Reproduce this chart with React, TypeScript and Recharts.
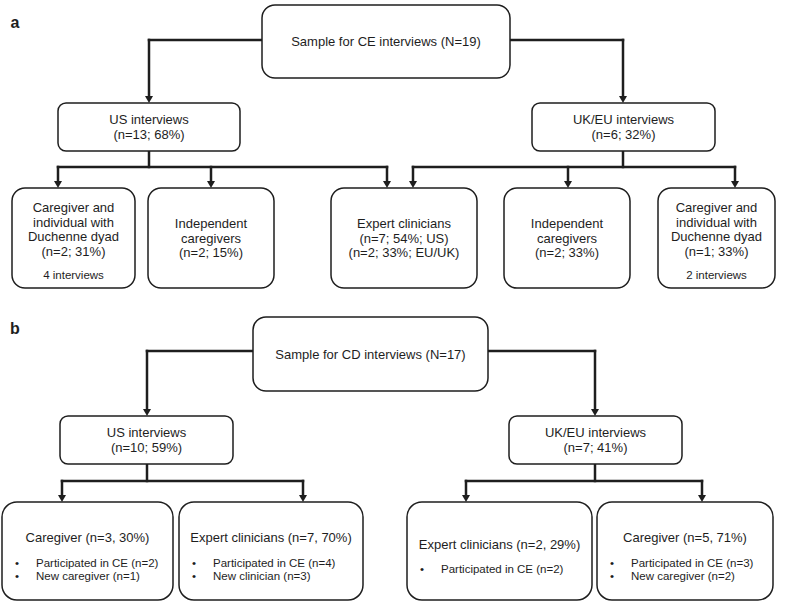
import React from "react";
import { ScatterChart, Scatter, XAxis, YAxis, ReferenceLine } from "recharts";

// ---- text content ----
const panelLabels = ["a", "b"];
const ceRoot = "Sample for CE interviews (N=19)";
const cdRoot = "Sample for CD interviews (N=17)";
const ceRegions = [
  ["US interviews", "(n=13; 68%)"],
  ["UK/EU interviews", "(n=6; 32%)"],
];
const ceGroups = [
  ["Caregiver and", "individual with", "Duchenne dyad", "(n=2; 31%)"],
  ["Independent", "caregivers", "(n=2; 15%)"],
  ["Expert clinicians", "(n=7; 54%; US)", "(n=2; 33%; EU/UK)"],
  ["Independent", "caregivers", "(n=2; 33%)"],
  ["Caregiver and", "individual with", "Duchenne dyad", "(n=1; 33%)"],
];
const ceNotes = ["4 interviews", "", "", "", "2 interviews"];
const cdRegions = [
  ["US interviews", "(n=10; 59%)"],
  ["UK/EU interviews", "(n=7; 41%)"],
];
const cdGroups = [
  "Caregiver (n=3, 30%)",
  "Expert clinicians (n=7, 70%)",
  "Expert clinicians (n=2, 29%)",
  "Caregiver (n=5, 71%)",
];
const cdBullets = [
  ["Participated in CE (n=2)", "New caregiver (n=1)"],
  ["Participated in CE (n=4)", "New clinician (n=3)"],
  ["Participated in CE (n=2)"],
  ["Participated in CE (n=3)", "New caregiver (n=2)"],
];

// ---- layout (x0, y0, x1, y1 in plot units) ----
const rootRects = [
  [262, 5, 510, 78],
  [253, 317, 488, 391],
];
const ceRegionRects = [
  [58, 103, 240, 151],
  [532, 103, 715, 151],
];
const ceGroupRects = [
  [12, 188, 135, 288],
  [148, 188, 274, 288],
  [331, 188, 477, 288],
  [504, 188, 630, 288],
  [658, 188, 775, 288],
];
const cdRegionRects = [
  [60, 416, 233, 464],
  [509, 416, 682, 464],
];
const cdGroupRects = [
  [2, 502, 173, 600],
  [179, 502, 363, 600],
  [407, 502, 592, 600],
  [597, 502, 773, 600],
];
const labelPos = [
  [15, 22],
  [15, 328],
];

// connectors: [x1, y1, x2, y2]
const segments = [
  [262, 40, 149, 40], [149, 40, 149, 97],
  [510, 40, 623, 40], [623, 40, 623, 97],
  [149, 151, 149, 167], [58, 167, 387, 167],
  [58, 167, 58, 182], [211, 167, 211, 182], [387, 167, 387, 182],
  [623, 151, 623, 167], [413, 167, 735, 167],
  [413, 167, 413, 182], [568, 167, 568, 182], [735, 167, 735, 182],
  [253, 351, 147, 351], [147, 351, 147, 410],
  [488, 351, 595, 351], [595, 351, 595, 410],
  [147, 464, 147, 481], [62, 481, 303, 481],
  [62, 481, 62, 496], [303, 481, 303, 496],
  [595, 464, 595, 481], [466, 481, 702, 481],
  [466, 481, 466, 496], [702, 481, 702, 496],
];
const arrowTips = [
  [149, 103], [623, 103],
  [58, 188], [211, 188], [387, 188], [413, 188], [568, 188], [735, 188],
  [147, 416], [595, 416],
  [62, 502], [303, 502], [466, 502], [702, 502],
];

const INK = "#1e1e1e";
const FONT = "'Liberation Sans', Arial, sans-serif";

type Box = {
  x: number;
  y: number;
  w: number;
  h: number;
  rx: number;
  kind: "plain" | "bullets";
  lines: string[];
  lh: number;
  note?: string;
  bullets?: string[];
};

const mk = (r: number[], rx: number, kind: Box["kind"], lines: string[], lh: number, extra = {}): Box => ({
  x: (r[0] + r[2]) / 2,
  y: (r[1] + r[3]) / 2,
  w: r[2] - r[0],
  h: r[3] - r[1],
  rx,
  kind,
  lines,
  lh,
  ...extra,
});

const boxes: Box[] = [
  mk(rootRects[0], 13, "plain", [ceRoot], 15),
  mk(rootRects[1], 13, "plain", [cdRoot], 15),
  ...ceRegionRects.map((r, i) => mk(r, 8, "plain", ceRegions[i], 15.5)),
  ...ceGroupRects.map((r, i) => mk(r, 13, "plain", ceGroups[i], 14.5, { note: ceNotes[i] })),
  ...cdRegionRects.map((r, i) => mk(r, 8, "plain", cdRegions[i], 15)),
  ...cdGroupRects.map((r, i) => mk(r, 15, "bullets", [cdGroups[i]], 13, { bullets: cdBullets[i] })),
];

const arrows = arrowTips.map(([x, y]) => ({ x, y }));
const labels = labelPos.map(([x, y], i) => ({ x, y, text: panelLabels[i] }));

function BoxShape(props: any) {
  const { cx, cy, payload } = props;
  const b: Box = payload;
  const left = cx - b.w / 2;
  const top = cy - b.h / 2;
  const out: React.ReactNode[] = [];
  if (b.kind === "plain") {
    const mid = b.note ? cy - 8.5 : cy;
    const start = mid - ((b.lines.length - 1) * b.lh) / 2;
    b.lines.forEach((t, i) =>
      out.push(
        <text key={i} x={cx} y={start + i * b.lh} textAnchor="middle" dominantBaseline="central" fontSize={13} fill={INK}>
          {t}
        </text>
      )
    );
    if (b.note)
      out.push(
        <text key="note" x={cx} y={cy + 37} textAnchor="middle" dominantBaseline="central" fontSize={11.5} fill={INK}>
          {b.note}
        </text>
      );
  } else {
    const n = b.bullets!.length;
    const headY = cy + 5.5 - (25 + 13 * (n - 1)) / 2;
    out.push(
      <text key="h" x={cx} y={headY} textAnchor="middle" dominantBaseline="central" fontSize={13} fill={INK}>
        {b.lines[0]}
      </text>
    );
    b.bullets!.forEach((t, i) => {
      const y = headY + 25 + i * 13;
      out.push(
        <text key={"d" + i} x={left + 15} y={y} textAnchor="middle" dominantBaseline="central" fontSize={11.5} fill={INK}>
          {"•"}
        </text>,
        <text key={"b" + i} x={left + 34} y={y} dominantBaseline="central" fontSize={11.5} fill={INK}>
          {t}
        </text>
      );
    });
  }
  return (
    <g fontFamily={FONT}>
      <rect x={left} y={top} width={b.w} height={b.h} rx={b.rx} ry={b.rx} fill="#fff" stroke={INK} strokeWidth={1.5} />
      {out}
    </g>
  );
}

function ArrowShape(props: any) {
  const { cx, cy } = props;
  return <polygon points={`${cx - 4},${cy - 7} ${cx + 4},${cy - 7} ${cx},${cy}`} fill={INK} />;
}

function LabelShape(props: any) {
  const { cx, cy, payload } = props;
  return (
    <text x={cx} y={cy} textAnchor="middle" dominantBaseline="central" fontSize={16} fontWeight="bold" fontFamily={FONT} fill={INK}>
      {payload.text}
    </text>
  );
}

export default function App() {
  return (
    <div style={{ position: "absolute", left: 0, top: 0, width: 787, height: 603, background: "#fff" }}>
      <ScatterChart width={787} height={603} margin={{ top: 0, right: 0, bottom: 0, left: 0 }}>
        <XAxis type="number" dataKey="x" domain={[0, 787]} hide allowDataOverflow />
        <YAxis type="number" dataKey="y" domain={[0, 603]} reversed hide allowDataOverflow />
        {segments.map((s, i) => (
          <ReferenceLine
            key={i}
            segment={[{ x: s[0], y: s[1] }, { x: s[2], y: s[3] }]}
            stroke={INK}
            strokeWidth={2.5}
            strokeLinecap="square"
            ifOverflow="visible"
          />
        ))}
        <Scatter data={boxes} shape={BoxShape} isAnimationActive={false} />
        <Scatter data={arrows} shape={ArrowShape} isAnimationActive={false} />
        <Scatter data={labels} shape={LabelShape} isAnimationActive={false} />
      </ScatterChart>
    </div>
  );
}
